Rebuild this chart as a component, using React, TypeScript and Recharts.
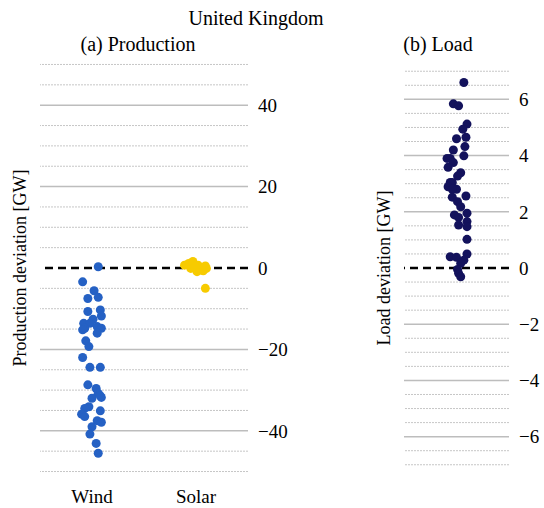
import { ScatterChart, Scatter, XAxis, YAxis, ReferenceLine } from 'recharts';

// strip plot of daily deviations, United Kingdom
const productionCategories = ['Wind', 'Solar'];

const windValues = [
  0.3, -3.4, -5.6, -7.5, -7.2, -10.7, -10.3, -11.8, -12.6, -13.6, -13.6, -14.8, -15.2,
  -14.4, -14.8, -16.0, -17.9, -19.3, -22.0, -24.4, -24.4, -28.7, -29.6, -30.8, -31.8,
  -32.0, -31.4, -34.1, -34.5, -35.9, -36.5, -35.1, -37.5, -37.9, -39.0, -40.8, -43.1, -45.5,
];
const windJitter = [
  0.06, -0.09, 0.02, -0.04, 0.06, -0.04, 0.08, 0.09, 0.01, -0.08, -0.02, -0.07, -0.09,
  0.05, 0.09, 0.05, -0.06, -0.03, -0.09, -0.02, 0.08, -0.04, 0.04, 0.06, 0.09,
  0.0, 0.08, -0.03, -0.07, -0.1, -0.07, 0.08, 0.05, 0.09, 0.0, -0.02, 0.04, 0.06,
];

const solarValues = [1.1, -0.1, 0.7, -0.9, 0.5, -0.7, 0.7, 1.6, -0.5, -0.1, 0.2, -5.0];
const solarJitter = [-0.07, -0.05, 0.02, 0.01, 0.09, 0.07, -0.11, -0.03, 0.05, 0.1, -0.01, 0.09];

const loadValues = [
  6.6, 5.84, 5.77, 5.12, 4.94, 4.65, 4.6, 4.32, 4.2, 3.99, 3.9, 3.9, 3.75, 3.58, 3.39,
  3.27, 3.04, 3.04, 2.89, 2.8, 2.8, 2.56, 2.52, 2.36, 2.18, 1.95, 1.89, 1.8, 1.65, 1.53,
  1.47, 1.02, 0.5, 0.4, 0.38, 0.28, 0.17, -0.05, -0.19, -0.31,
];
const loadJitter = [
  0.07, -0.03, 0.02, 0.1, 0.06, 0.09, 0.0, 0.08, -0.03, 0.07, -0.06, -0.09, -0.03, -0.08, 0.04,
  0.01, -0.04, -0.06, -0.08, 0.0, -0.04, 0.09, -0.04, 0.01, 0.04, 0.1, -0.02, 0.02, 0.1, 0.02,
  0.1, 0.1, 0.1, -0.06, 0.0, 0.07, 0.04, 0.01, 0.02, 0.04,
];

const productionTicks = [-40, -20, 0, 20, 40];
const productionMajorGrid = [-40, -20, 20, 40];
const productionMinorGrid = [-50, -45, -35, -30, -25, -15, -10, -5, 5, 10, 15, 25, 30, 35, 45, 50];

const loadTicks = [-6, -4, -2, 0, 2, 4, 6];
const loadMajorGrid = [-6, -4, -2, 2, 4, 6];
const loadMinorGrid = [
  -7, -6.5, -5.5, -5, -4.5, -3.5, -3, -2.5, -1.5, -1, -0.5,
  0.5, 1, 1.5, 2.5, 3, 3.5, 4.5, 5, 5.5, 6.5, 7,
];

const FONT = '"Liberation Serif", "Times New Roman", "DejaVu Serif", serif';
const WIND = '#2561c4';
const SOLAR = '#f7cb00';
const LOAD = '#13125c';

const toPoints = (values: number[], jitter: number[], pos: number) =>
  values.map((y, i) => ({ x: pos + jitter[i], y }));

const fmt = (v: number) => (v < 0 ? `\u2212${Math.abs(v)}` : String(v));

const dot = (color: string) => (props: any) => (
  <circle cx={props.cx} cy={props.cy} r={4.5} fill={color} />
);

const gridLines = (major: number[], minor: number[]) => [
  ...minor.map((v) => (
    <ReferenceLine key={`mi${v}`} y={v} stroke="#b8b8b8" strokeWidth={0.8} strokeDasharray="2 1" />
  )),
  ...major.map((v) => (
    <ReferenceLine key={`ma${v}`} y={v} stroke="#bdbdbd" strokeWidth={1.5} />
  )),
  <ReferenceLine key="zero" y={0} stroke="#000" strokeWidth={2.5} strokeDasharray="8 5" />,
];

export default function App() {
  const tickStyle = { fill: '#000', fontSize: 19, fontFamily: FONT };

  return (
    <div style={{ position: 'absolute', left: 0, top: 0, width: 544, height: 508, background: '#fff', fontFamily: FONT }}>
      <div style={{ position: 'absolute', left: 0, top: 0 }}>
        <ScatterChart width={290} height={508} margin={{ top: 60, right: 0, bottom: 2, left: 40 }}>
          <XAxis
            type="number"
            dataKey="x"
            domain={[-0.5, 1.5]}
            ticks={[0, 1]}
            tickFormatter={(v: number) => productionCategories[v]}
            axisLine={false}
            tickLine={false}
            tickMargin={8}
            height={30}
            tick={tickStyle}
          />
          <YAxis
            type="number"
            dataKey="y"
            orientation="right"
            domain={[-51.1, 51.1]}
            ticks={productionTicks}
            tickFormatter={fmt}
            axisLine={false}
            tickLine={false}
            tickMargin={4}
            width={42}
            tick={tickStyle}
          />
          {gridLines(productionMajorGrid, productionMinorGrid)}
          <Scatter data={toPoints(windValues, windJitter, 0)} shape={dot(WIND)} isAnimationActive={false} />
          <Scatter data={toPoints(solarValues, solarJitter, 1)} shape={dot(SOLAR)} isAnimationActive={false} />
        </ScatterChart>
      </div>

      <div style={{ position: 'absolute', left: 300, top: 0 }}>
        <ScatterChart width={244} height={508} margin={{ top: 60, right: 0, bottom: 2, left: 104 }}>
          <XAxis type="number" dataKey="x" domain={[-0.5, 0.5]} tick={false} axisLine={false} tickLine={false} height={30} />
          <YAxis
            type="number"
            dataKey="y"
            orientation="right"
            domain={[-7.4, 7.4]}
            ticks={loadTicks}
            tickFormatter={fmt}
            axisLine={false}
            tickLine={false}
            tickMargin={4}
            width={35}
            tick={tickStyle}
          />
          {gridLines(loadMajorGrid, loadMinorGrid)}
          <Scatter data={toPoints(loadValues, loadJitter, 0)} shape={dot(LOAD)} isAnimationActive={false} />
        </ScatterChart>
      </div>

      <svg width={544} height={508} style={{ position: 'absolute', left: 0, top: 0, pointerEvents: 'none' }}>
        <g fontFamily={FONT} fill="#000" textAnchor="middle">
          <text x={256} y={25} fontSize={20}>United Kingdom</text>
          <text x={138} y={51} fontSize={20}>(a) Production</text>
          <text x={438} y={51} fontSize={20}>(b) Load</text>
          <text transform="translate(26, 268) rotate(-90)" fontSize={18}>Production deviation [GW]</text>
          <text transform="translate(390, 268) rotate(-90)" fontSize={18}>Load deviation [GW]</text>
        </g>
      </svg>
    </div>
  );
}
